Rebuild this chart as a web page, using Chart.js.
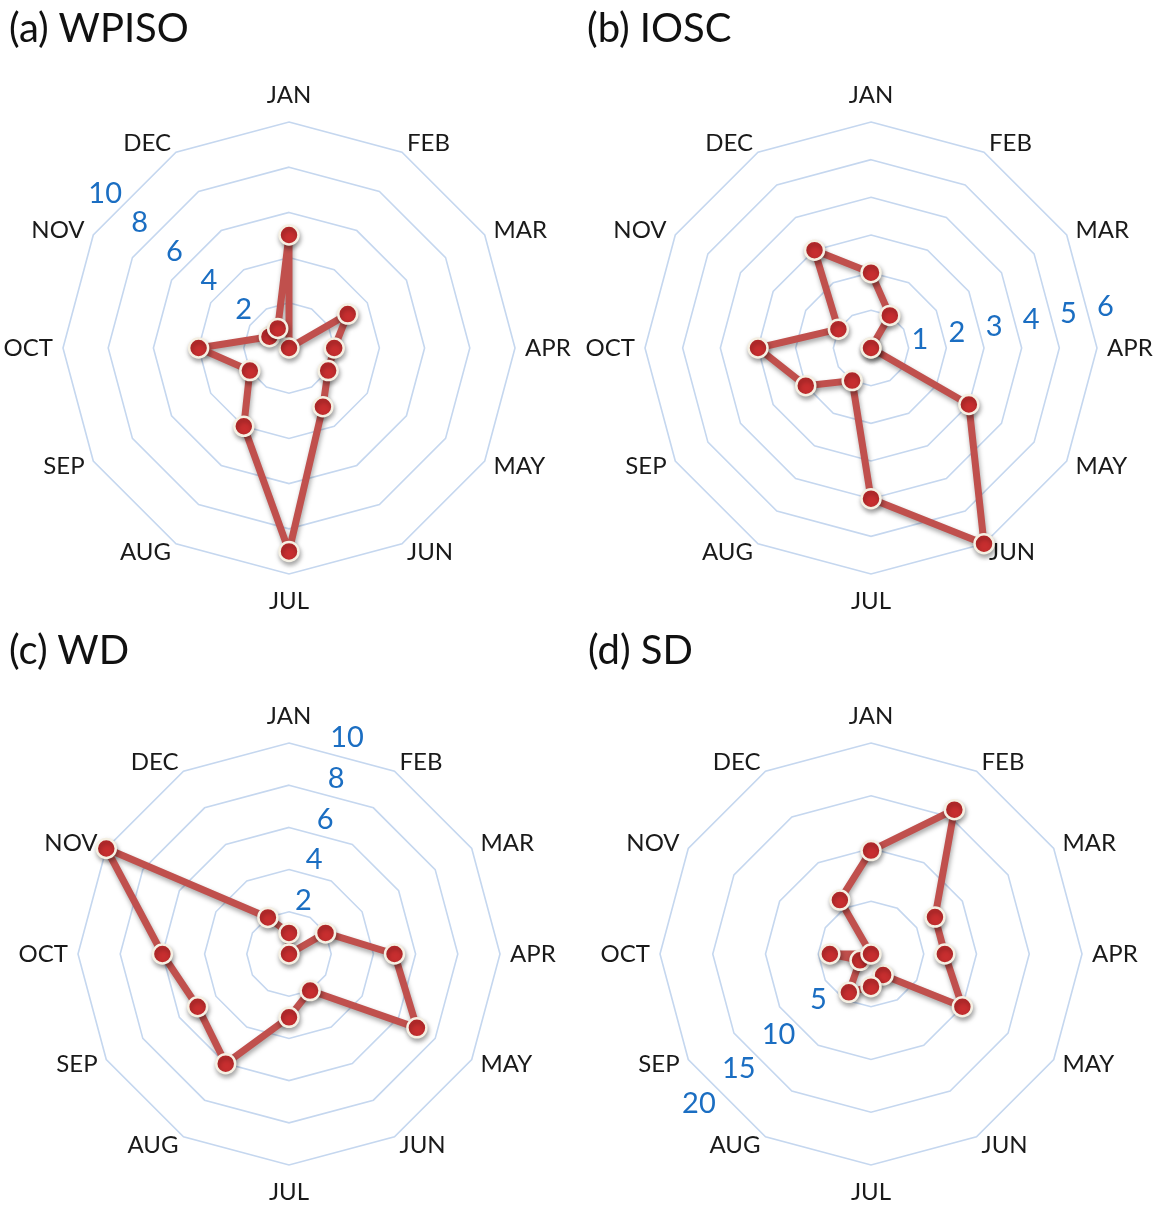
<!DOCTYPE html>
<html lang="en">
<head>
  <meta charset="UTF-8" />
  <title>Monthly radar panels</title>
  <script src="https://cdn.jsdelivr.net/npm/chart.js"></script>
  <style>
    body {
      margin: 0;
      background: #fff;
      font-family: Lato, "Open Sans", sans-serif;
    }

    .page {
      position: relative;
      width: 1157px;
      height: 1207px;
      overflow: hidden;
    }

    .panel {
      position: absolute;
    }

    .panel canvas {
      position: absolute;
      left: 0;
      top: 0;
    }

    .panel h2 {
      position: absolute;
      margin: 0;
      font-weight: normal;
      font-size: 40px;
      line-height: 40px;
      color: #111;
      white-space: nowrap;
    }
  </style>
</head>
<body>
  <div class="page">
    <div class="panel" style="left:0;top:0;width:580px;height:620px">
      <canvas id="chartA" width="580" height="620"></canvas>
      <h2 style="left:9px;top:7px">(a) WPISO</h2>
    </div>
    <div class="panel" style="left:580px;top:0;width:577px;height:620px">
      <canvas id="chartB" width="577" height="620"></canvas>
      <h2 style="left:7px;top:7px">(b) IOSC</h2>
    </div>
    <div class="panel" style="left:0;top:620px;width:580px;height:587px">
      <canvas id="chartC" width="580" height="587"></canvas>
      <h2 style="left:9px;top:9px">(c) WD</h2>
    </div>
    <div class="panel" style="left:580px;top:620px;width:577px;height:587px">
      <canvas id="chartD" width="577" height="587"></canvas>
      <h2 style="left:8px;top:9px">(d) SD</h2>
    </div>
  </div>

  <script>
    const months = ['JAN', 'FEB', 'MAR', 'APR', 'MAY', 'JUN', 'JUL', 'AUG', 'SEP', 'OCT', 'NOV', 'DEC'];

    const wpisoValues = [5, 0, 3, 2, 2, 3, 9, 4, 2, 4, 1, 1];
    const ioscValues = [2, 1, 0, 0, 3, 6, 4, 1, 2, 3, 1, 3];
    const wdValues = [1, 0, 2, 5, 7, 2, 3, 6, 5, 6, 10, 2];
    const sdValues = [9.8, 15.8, 7, 7, 10, 2.3, 3.1, 4.2, 1.2, 3.9, 0, 5.9];

    const wpisoTicks = [0, 2, 4, 6, 8, 10];
    const ioscTicks = [0, 1, 2, 3, 4, 5, 6];
    const wdTicks = [0, 2, 4, 6, 8, 10];
    const sdTicks = [0, 5, 10, 15, 20];

    const labelFont = '24px Lato, "Open Sans", sans-serif';
    const tickFont = '29px Lato, "Open Sans", sans-serif';

    // month names and the blue ring values, placed with the radial scale
    const radarText = {
      id: 'radarText',
      beforeDatasetsDraw(chart, args, opts) {
        const scale = chart.scales.r;
        const ctx = chart.ctx;
        ctx.save();
        ctx.font = labelFont;
        ctx.fillStyle = '#1a1a1a';
        ctx.textBaseline = 'middle';
        chart.data.labels.forEach((label, i) => {
          const s = Math.sin(scale.getIndexAngle(i));
          let pos;
          if (Math.abs(s) < 0.01) {
            pos = scale.getPointPosition(i, scale.drawingArea + 27);
            ctx.textAlign = 'center';
          } else {
            pos = scale.getPointPosition(i, scale.drawingArea + 10);
            ctx.textAlign = s > 0 ? 'left' : 'right';
          }
          ctx.fillText(label, pos.x, pos.y);
        });

        ctx.font = tickFont;
        ctx.fillStyle = '#1b6ec2';
        ctx.textAlign = 'center';
        const rad = opts.tickAngle * Math.PI / 180;
        scale.ticks.forEach(t => {
          if (t.value <= 0) return;
          const d = scale.getDistanceFromCenterForValue(t.value) + opts.tickOffset;
          const p = scale.getPointPosition(0, d, rad);
          ctx.fillText(t.label, p.x, p.y);
        });
        ctx.restore();
      }
    };

    const softShadow = {
      id: 'softShadow',
      beforeDatasetDraw(chart) {
        const ctx = chart.ctx;
        ctx.save();
        ctx.shadowColor = 'rgba(0, 0, 0, 0.35)';
        ctx.shadowBlur = 5;
        ctx.shadowOffsetX = 1;
        ctx.shadowOffsetY = 3;
      },
      afterDatasetDraw(chart) {
        chart.ctx.restore();
      }
    };

    function makeRadar(id, values, ticks, tickAngle, tickOffset, padding) {
      return new Chart(document.getElementById(id), {
        type: 'radar',
        data: {
          labels: months,
          datasets: [{
            data: values,
            borderColor: '#c0504d',
            borderWidth: 7,
            borderJoinStyle: 'round',
            pointRadius: 9.5,
            pointHoverRadius: 9.5,
            pointBackgroundColor: '#c72e2f',
            pointBorderColor: '#f5f0e3',
            pointBorderWidth: 2.5,
            fill: false,
            tension: 0
          }]
        },
        options: {
          responsive: false,
          animation: false,
          layout: { padding: padding },
          plugins: {
            legend: { display: false },
            tooltip: { enabled: false },
            radarText: { tickAngle: tickAngle, tickOffset: tickOffset }
          },
          scales: {
            r: {
              min: 0,
              max: ticks[ticks.length - 1],
              afterBuildTicks: s => { s.ticks = ticks.map(v => ({ value: v })); },
              ticks: { display: false },
              pointLabels: { display: false },
              angleLines: { display: false },
              grid: { color: '#c5d7ef', lineWidth: 1.6 }
            }
          }
        },
        plugins: [radarText, softShadow]
      });
    }

    makeRadar('chartA', wpisoValues, wpisoTicks, -50, 14, { left: 63, right: 65, top: 122, bottom: 46 });
    makeRadar('chartB', ioscValues, ioscTicks, 80, 12, { left: 65, right: 60, top: 122, bottom: 46 });
    makeRadar('chartC', wdValues, wdTicks, 15, 13, { left: 78, right: 80, top: 123, bottom: 42 });
    makeRadar('chartD', sdValues, sdTicks, 229, 17, { left: 80, right: 75, top: 123, bottom: 42 });
  </script>
</body>
</html>
